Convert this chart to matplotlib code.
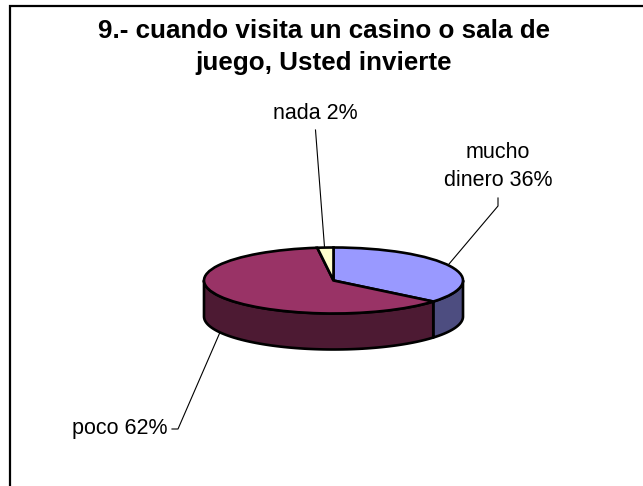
import numpy as np
import matplotlib
matplotlib.use("Agg")
import matplotlib.pyplot as plt

# Pie chart with a fake 3D rim, as drawn by old Excel charts
title = "9.- cuando visita un casino o sala de\njuego, Usted invierte"
labels = ["mucho\ndinero 36%", "poco 62%", "nada 2%"]
values = [36, 62, 2]
colors = ["#9999FF", "#993366", "#FFFFCC"]
side_colors = ["#4D4D80", "#4D1A33", "#80801A"]

W, H = 643, 486
CX, CY = 333.5, 280.5
RX, RY = 129.5, 33
DEPTH = 36

plt.rcParams['font.family'] = ['Liberation Sans', 'DejaVu Sans']

fig = plt.figure(figsize=(W / 100, H / 100), dpi=100)
ax = fig.add_axes([0, 0, 1, 1])

wedges, _ = ax.pie(values, colors=colors, startangle=90, counterclock=False, radius=1,
                   wedgeprops=dict(edgecolor="black", linewidth=1.9, zorder=4))
# pie forces an equal aspect, here the circle has to become the flat ellipse
ax.set_aspect("auto")
ax.set_xlim(-CX / RX, (W - CX) / RX)
ax.set_ylim((CY - H) / RY, CY / RY)
ax.axis("off")

# rim, only the front half of the ellipse shows
d = DEPTH / RY
for w, c in zip(wedges, side_colors):
    a1 = w.theta1 % 360
    a2 = min(a1 + (w.theta2 - w.theta1), 360)
    a1 = max(a1, 180)
    if a1 >= a2:
        continue
    t = np.radians(np.linspace(a1, a2, 80))
    x = np.cos(t)
    y = np.sin(t)
    ax.fill(np.r_[x, x[::-1]], np.r_[y, y[::-1] - d], facecolor=c, edgecolor="black", linewidth=1.9,
            joinstyle="round", zorder=3)


def px(x, y):
    return (x - CX) / RX, (CY - y) / RY


# leader lines, image pixel positions
def leader(xs, ys):
    pts = [px(a, b) for a, b in zip(xs, ys)]
    ax.plot([p[0] for p in pts], [p[1] for p in pts], color="black", linewidth=0.8, zorder=2)


leader([498, 498, 449], [198, 206, 264])
leader([315.5, 324.5], [130, 247])
leader([172, 178, 221], [429, 429, 330])

ax.text(*px(498, 166.5), labels[0], ha="center", va="center", fontsize=15.5, linespacing=1.4)
ax.text(*px(120, 428.5), labels[1], ha="center", va="center", fontsize=15.5)
ax.text(*px(315, 113), labels[2], ha="center", va="center", fontsize=15.5)
ax.text(*px(324, 47), title, ha="center", va="center", fontsize=18.7, fontweight="bold", linespacing=1.47)

# chart frame, the crop only shows its top and left side
ax.plot(*zip(px(9.5, H), px(9.5, 6), px(W, 6)), color="black", linewidth=1.6, solid_joinstyle="miter",
        clip_on=False, zorder=1)

fig.savefig("out.png", dpi=100)
